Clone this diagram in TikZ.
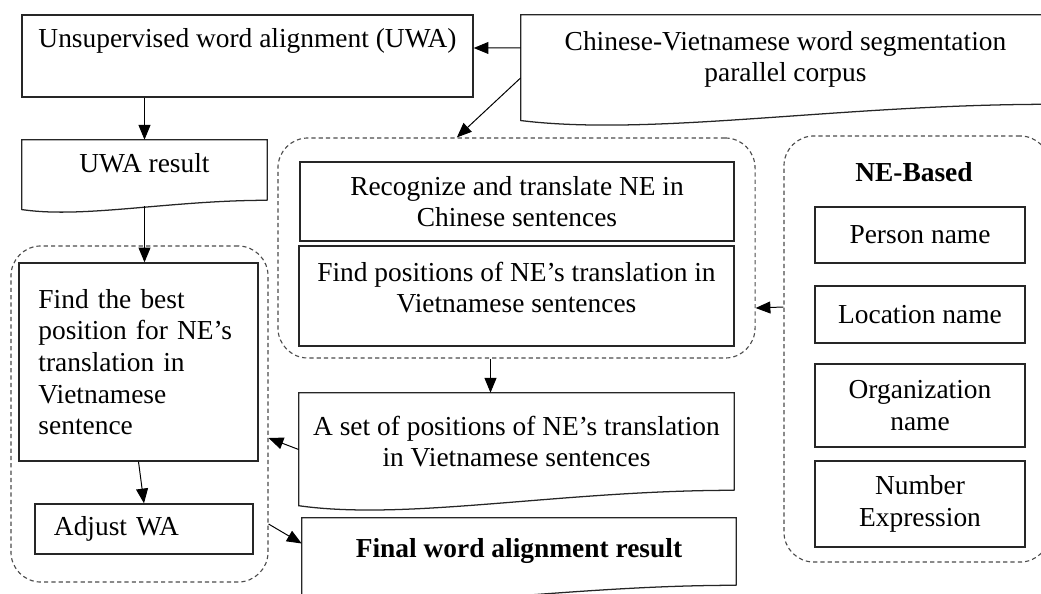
\documentclass[tikz,border=0pt]{standalone}
\usepackage{fontspec}
\setmainfont{Liberation Serif}
\usetikzlibrary{arrows.meta, calc}

% document shape: straight top and sides, wavy bottom
\newcommand{\wavydoc}[2]{%
  \draw[boxline] let \p1=(#1.south west), \p2=(#1.south east) in
    (\p2) -- (#1.north east) -- (#1.north west) -- (\x1,{\y1-0.7*#2})
    .. controls ({\x1+0.25*(\x2-\x1)},{\y1-1.4*#2}) and ({\x1+0.6*(\x2-\x1)},\y2) .. (\p2);
}

\begin{document}
\begin{tikzpicture}[
    x=0.025cm, y=-0.025cm,
    >={Triangle[length=10.5pt, width=8.5pt]},
    every node/.style={font=\fontsize{19.5}{22.5}\selectfont},
    boldtxt/.style={font=\fontsize{19.5}{22.5}\selectfont\bfseries},
    box/.style={draw=black!85, line width=0.9pt, align=center, inner sep=2pt},
    doc/.style={align=center, inner sep=2pt},
    boxline/.style={draw=black!85, line width=0.9pt},
    grp/.style={draw=black!70, line width=0.8pt, dash pattern=on 3pt off 2.2pt, rounded corners=0.75cm},
    arr/.style={->, line width=0.7pt},
]
\useasboundingbox (0,0) rectangle (1041,593);
\clip (0,0) rectangle (1041,593);

% ---- dashed groups ----
\node[grp, minimum width=6.425cm, minimum height=8.4cm]  (leftgrp) at (139.5,414) {};
\node[grp, minimum width=11.925cm, minimum height=5.5cm] (midgrp)  at (516.5,248) {};
\node[grp, minimum width=6.65cm, minimum height=10.65cm] (negrp)   at (917,349) {};

% ---- top row ----
\node[box, minimum width=11.275cm, minimum height=2.05cm] (uwa) at (247.5,56)
  {Unsupervised word alignment (UWA)\\[-4pt] \strut};
\node[doc, minimum width=13.225cm, minimum height=2.225cm] (corpus) at (785.5,59.5)
  {Chinese-Vietnamese word segmentation\\parallel corpus};
\wavydoc{corpus}{0.58cm}

% ---- left column ----
\node[doc, minimum width=6.125cm, minimum height=1.5cm] (uwares) at (144.5,170)
  {UWA result\\[-12pt]};
\wavydoc{uwares}{0.33cm}
\node[box, align=left, text width=5cm, minimum width=5.975cm, minimum height=4.95cm] (findbest) at (138.5,362)
  {Find the best\\position for NE’s\\translation in\\Vietnamese\\sentence};
\node[box, align=left, text width=4.5cm, minimum width=5.45cm, minimum height=1.25cm] (adjust) at (144,529)
  {Adjust WA};

% ---- middle column ----
\node[box, minimum width=10.85cm, minimum height=1.975cm] (recog) at (517,201.5)
  {Recognize and translate NE in\\Chinese sentences};
\node[box, minimum width=10.875cm, minimum height=2.5cm] (findpos) at (516.5,296)
  {Find positions of NE’s translation in\\Vietnamese sentences\\[-10pt]};
\node[doc, minimum width=10.875cm, minimum height=2.425cm] (setdoc) at (516.5,441.5)
  {A set of positions of NE’s translation\\in Vietnamese sentences};
\wavydoc{setdoc}{0.55cm}
\node[doc, boldtxt, minimum width=10.85cm, minimum height=1.675cm] (final) at (519,551.5)
  {Final word alignment result};
\wavydoc{final}{0.5cm}

% ---- NE types ----
\node[boldtxt] (nebased) at (914,172) {NE-Based};
\node[box, minimum width=5.25cm, minimum height=1.4cm]   (person)   at (920,235)   {Person name};
\node[box, minimum width=5.25cm, minimum height=1.425cm] (location) at (920,314.5) {Location name};
\node[box, minimum width=5.25cm, minimum height=2.075cm] (org)      at (920,405.5) {Organization\\name};
\node[box, minimum width=5.25cm, minimum height=2.15cm]  (number)   at (920,504)   {Number\\Expression};

% ---- connectors ----
\draw[arr] ([yshift=0.29cm]corpus.west) -- ([yshift=0.2cm]uwa.east);
\draw[arr] ([yshift=-0.46cm]corpus.west) -- ([xshift=-1.49cm]midgrp.north);
\draw[arr] (uwares.north |- uwa.south) -- (uwares.north);
\draw[arr] ([yshift=-0.15cm]uwares.south) -- (uwares.south |- findbest.north);
\draw[arr] (findbest.south) -- (adjust.north);
\draw[arr] ([xshift=-0.65cm]midgrp.south) -- ([xshift=-0.65cm]setdoc.north);
\draw[arr] ([yshift=-0.2cm]setdoc.west) -- ([yshift=-0.6cm]leftgrp.east);
\draw[arr] ([yshift=-2.75cm]leftgrp.east) -- ([yshift=0.2cm]final.west);
\draw[arr] ([yshift=1.05cm]negrp.west) -- ([yshift=-1.5cm]midgrp.east);

\end{tikzpicture}
\end{document}
